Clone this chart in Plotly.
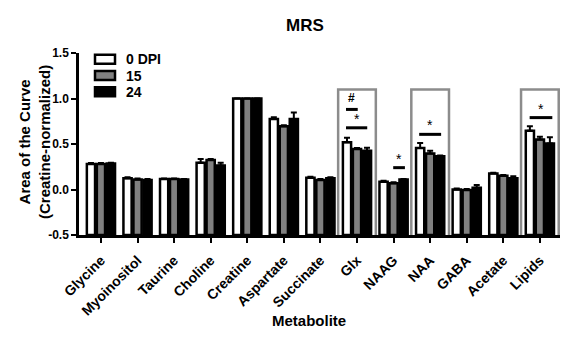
import plotly.graph_objects as go

# ---------------- data ----------------
metabolites = ["Glycine", "Myoinositol", "Taurine", "Choline", "Creatine", "Aspartate",
               "Succinate", "Glx", "NAAG", "NAA", "GABA", "Acetate", "Lipids"]
dpi0 = [0.28, 0.125, 0.115, 0.295, 1.0, 0.775, 0.13, 0.52, 0.085, 0.455, 0.0, 0.175, 0.645]
dpi15 = [0.28, 0.11, 0.115, 0.325, 1.0, 0.695, 0.105, 0.445, 0.07, 0.395, -0.005, 0.15, 0.55]
dpi24 = [0.285, 0.105, 0.11, 0.265, 1.0, 0.775, 0.125, 0.425, 0.11, 0.365, 0.02, 0.125, 0.505]
err0 = [0.01, 0.01, 0.005, 0.04, 0.0, 0.02, 0.01, 0.05, 0.01, 0.055, 0.01, 0.01, 0.05]
err15 = [0.01, 0.01, 0.005, 0.01, 0.0, 0.01, 0.01, 0.01, 0.01, 0.03, 0.01, 0.01, 0.03]
err24 = [0.01, 0.01, 0.005, 0.03, 0.0, 0.07, 0.01, 0.035, 0.005, 0.01, 0.03, 0.02, 0.07]
series_names = ["0 DPI", "15", "24"]
y_ticks = [-0.5, 0.0, 0.5, 1.0, 1.5]
highlighted = ["Glx", "NAA", "Lipids"]
# significance markers: (metabolite, label)
sig_labels = [("Glx", "#"), ("Glx", "*"), ("NAAG", "*"), ("NAA", "*"), ("Lipids", "*")]
sig_heights = [0.88, 0.678, 0.24, 0.606, 0.79]

FONT = "Liberation Sans, Arial, sans-serif"
fills = ["white", "#808080", "black"]
Y_MIN = -0.5  # bars are drawn up from the bottom of the axis, as in the original

fig = go.Figure()
for name, vals, errs, fc in zip(series_names, [dpi0, dpi15, dpi24], [err0, err15, err24], fills):
    fig.add_trace(go.Bar(
        x=metabolites, y=[v - Y_MIN for v in vals], base=Y_MIN, name=name,
        customdata=vals, hovertemplate="%{x}: %{customdata}<extra>" + name + "</extra>",
        marker=dict(color=fc, line=dict(color="black", width=2.5)),
        error_y=dict(type="data", array=errs, arrayminus=[0] * len(errs), symmetric=False,
                     color="black", thickness=2, width=3),
        showlegend=False,
    ))

shapes = []
annotations = []
idx = {m: i for i, m in enumerate(metabolites)}

# grey highlight boxes
for m in highlighted:
    i = idx[m]
    shapes.append(dict(type="rect", xref="x", yref="y", x0=i - 0.515, x1=i + 0.515,
                       y0=-0.525, y1=1.10, line=dict(color="#8c8c8c", width=2.5),
                       fillcolor="rgba(0,0,0,0)", layer="above"))

# significance bars
sig_span = {("Glx", "#"): (-0.30, 0.02), ("Glx", "*"): (-0.30, 0.28), ("NAAG", "*"): (-0.01, 0.31),
            ("NAA", "*"): (-0.30, 0.30), ("Lipids", "*"): (-0.28, 0.34)}
for (m, lab), h in zip(sig_labels, sig_heights):
    i = idx[m]
    a, b = sig_span[(m, lab)]
    shapes.append(dict(type="line", xref="x", yref="y", x0=i + a, x1=i + b, y0=h, y1=h,
                       line=dict(color="black", width=3)))
    annotations.append(dict(x=i + (a + b) / 2, y=h, xref="x", yref="y",
                            text="<b>%s</b>" % lab if lab == "#" else lab, showarrow=False,
                            yanchor="bottom", yshift=-1 if lab == "*" else 2,
                            font=dict(family=FONT, size=14 if lab == "*" else 12, color="black")))

# custom legend (positions given in screen pixels, plot area spans x 79..560, y 53..235)
W, H = 481.0, 182.0
def px(x): return (x - 79) / W
def py(y): return (235 - y) / H
for k, (name, fc) in enumerate(zip(series_names, fills)):
    cy = 59.3 + 16.2 * k
    shapes.append(dict(type="rect", xref="paper", yref="paper", x0=px(95), x1=px(115),
                       y0=py(cy + 4.5), y1=py(cy - 4.5), fillcolor=fc,
                       line=dict(color="black", width=2.5)))
    annotations.append(dict(x=px(124), y=py(cy), xref="paper", yref="paper", text="<b>%s</b>" % name,
                            showarrow=False, xanchor="left", yanchor="middle",
                            font=dict(family=FONT, size=14, color="black")))

# titles
annotations.append(dict(x=px(305), y=py(25), xref="paper", yref="paper", text="<b>MRS</b>",
                        showarrow=False, xanchor="center", yanchor="middle",
                        font=dict(family=FONT, size=17, color="black")))
annotations.append(dict(x=px(309), y=py(320), xref="paper", yref="paper", text="<b>Metabolite</b>",
                        showarrow=False, xanchor="center", yanchor="middle",
                        font=dict(family=FONT, size=15, color="black")))
annotations.append(dict(x=px(34), y=py(142), xref="paper", yref="paper",
                        text="<b>Area of the Curve</b><br><b>(Creatine-normalized)</b>",
                        showarrow=False, xanchor="center", yanchor="middle", textangle=-90,
                        font=dict(family=FONT, size=15, color="black")))

# the page body adds an 8px offset, so margins are reduced by 8px
fig.update_layout(
    width=580, height=345,
    margin=dict(l=71, r=28, t=45, b=118),
    paper_bgcolor="white", plot_bgcolor="white",
    barmode="group", bargap=0.18, bargroupgap=0.18,
    shapes=shapes, annotations=annotations,
    font=dict(family=FONT, color="black"),
)
fig.update_xaxes(
    type="category", categoryorder="array", categoryarray=metabolites,
    range=[-0.6, 12.55], showline=True, linecolor="black", linewidth=2.5,
    ticks="outside", ticklen=5, tickwidth=2, tickcolor="black", tickangle=-45,
    ticklabelstandoff=4,
    tickfont=dict(family=FONT, size=14, color="black"),
    ticktext=["<b>%s</b>" % m for m in metabolites], tickvals=metabolites,
    showgrid=False, zeroline=False,
)
fig.update_yaxes(
    range=[-0.5, 1.5], tickvals=y_ticks, ticktext=["<b>%.1f</b>" % v for v in y_ticks],
    showline=True, linecolor="black", linewidth=2.5,
    ticks="outside", ticklen=5, tickwidth=2, tickcolor="black",
    tickfont=dict(family=FONT, size=12, color="black"),
    showgrid=False, zeroline=False,
)
fig.write_html("out.html")
